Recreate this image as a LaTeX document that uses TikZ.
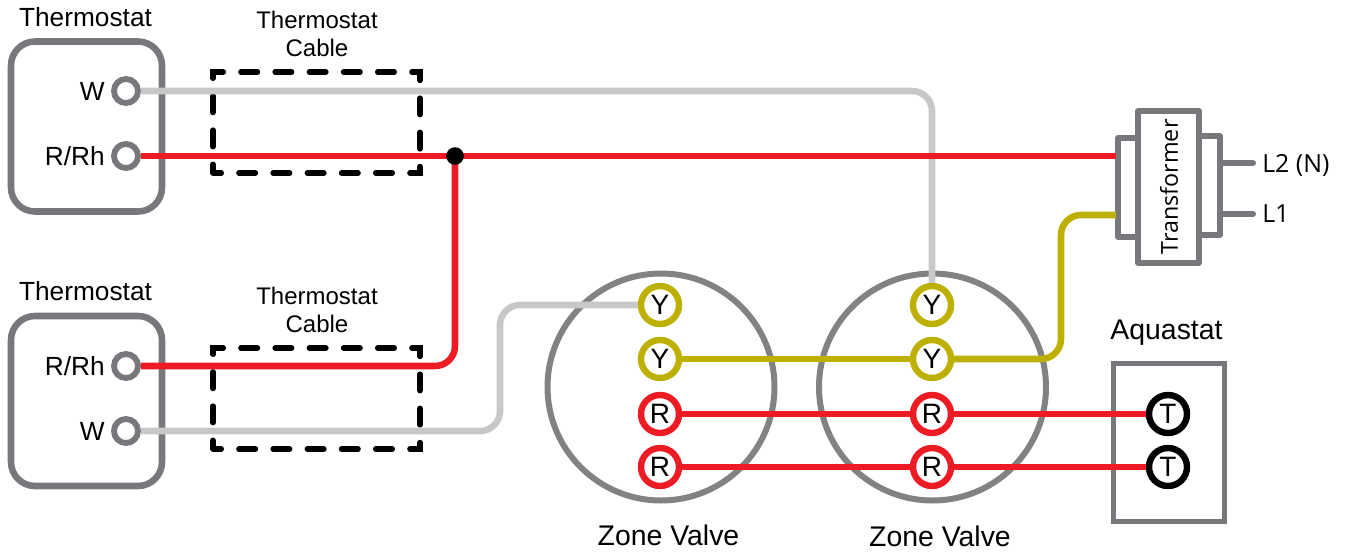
\documentclass[tikz,border=0pt]{standalone}
\usepackage{fontspec}
\setmainfont{Liberation Sans}
\newfontfamily\myriadish{Open Sans}
\usetikzlibrary{positioning}
\definecolor{boxGrey}{RGB}{119,120,123}
\definecolor{zoneGrey}{RGB}{130,130,130}
\definecolor{wireGrey}{RGB}{200,200,200}
\definecolor{wireRed}{RGB}{237,28,36}
\definecolor{wireOlive}{RGB}{189,176,0}

\begin{document}
\begin{tikzpicture}[
    x=0.75pt, y=-0.75pt,
    caption/.style={inner sep=0pt, align=center, font=\fontsize{19.7pt}{21pt}\selectfont},
    cablecap/.style={inner sep=0pt, align=center, font=\fontsize{18pt}{21pt}\selectfont},
    stat/.style={rectangle, draw=boxGrey, line width=4.9pt, rounded corners=18pt, minimum width=113.25pt, minimum height=127.5pt},
    cable/.style={rectangle, draw=black, line width=4.1pt, line cap=round, dash pattern=on 12.4pt off 13.25pt, dash phase=6.2pt, minimum width=155.25pt, minimum height=75.75pt},
    statpin/.style={circle, draw=boxGrey, fill=white, line width=4.4pt, minimum size=18pt, inner sep=0pt},
    pinlabel/.style={inner sep=0pt, font=\fontsize{19.7pt}{22pt}\selectfont},
    valve/.style={circle, draw=zoneGrey, line width=4.5pt, minimum size=170.25pt, inner sep=0pt},
    pin/.style={circle, fill=white, line width=4.8pt, minimum size=28.5pt, inner sep=0pt, font=\fontsize{21pt}{22pt}\selectfont},
    core/.style={rectangle, draw=boxGrey, line width=4.1pt, line join=round, inner sep=0pt},
    wire/.style={line width=4.9pt, rounded corners=15pt},
    lead/.style={draw=boxGrey, line width=4.5pt, line cap=round},
    sidetext/.style={inner sep=0pt, anchor=west, font=\myriadish\fontsize{18.7pt}{22pt}\selectfont}
]
\useasboundingbox (0,0) rectangle (1345,554);

% thermostats and cables
\node[stat] (statA) at (86.5,126.5) {};
\node[stat] (statB) at (86.5,401) {};
\node[caption] (statAcap) at (85.5,17) {Thermostat};
\node[caption] (statBcap) at (85.5,291) {Thermostat};
\node[cable] (cableA) at (316.5,122.5) {};
\node[cable] (cableB) at (316.5,398.5) {};
\node[cablecap] (cableAcap) at (317,33.5) {Thermostat\\Cable};
\node[cablecap] (cableBcap) at (317,309.5) {Thermostat\\Cable};
\node[statpin] (wA) at (126,91) {};
\node[statpin] (rA) at (126,156) {};
\node[statpin] (rB) at (126,366) {};
\node[statpin] (wB) at (126,431) {};
\node[pinlabel, left=4.6pt of wA] {W};
\node[pinlabel, left=4.6pt of rA] {R/Rh};
\node[pinlabel, left=4.6pt of rB] {R/Rh};
\node[pinlabel, left=4.6pt of wB] {W};

% zone valves
\node[valve] (valveA) at (661,387) {};
\node[valve] (valveB) at (932.5,387) {};
\node[caption, font=\fontsize{21.3pt}{22pt}\selectfont] (valveAcap) at (668.5,535) {Zone Valve};
\node[caption, font=\fontsize{21.3pt}{22pt}\selectfont] (valveBcap) at (940,536) {Zone Valve};
\node[pin, draw=wireOlive] (yA) at (660,305) {Y};
\node[pin, draw=wireOlive] (yyA) at (660,359) {Y};
\node[pin, draw=wireRed] (rrA) at (660,414) {R};
\node[pin, draw=wireRed] (ssA) at (660,467) {R};
\node[pin, draw=wireOlive] (yB) at (932,305) {Y};
\node[pin, draw=wireOlive] (yyB) at (932,359) {Y};
\node[pin, draw=wireRed] (rrB) at (932,414) {R};
\node[pin, draw=wireRed] (ssB) at (932,467) {R};

% aquastat
\node[rectangle, draw=boxGrey, line width=4.1pt, minimum width=83.25pt, minimum height=118.5pt] (aqua) at (1169,442.5) {};
\node[caption, font=\fontsize{21.3pt}{22pt}\selectfont] (aquacap) at (1166.5,333) {Aquastat};
\node[pin, draw=black] (tA) at (1168,414) {T};
\node[pin, draw=black] (tB) at (1168,467) {T};

% transformer
\node[core, minimum width=27pt, minimum height=74.25pt] (coilL) at (1136,187.5) {};
\node[core, minimum width=27pt, minimum height=74.25pt] (coilR) at (1202,185.5) {};
\node[core, fill=white, minimum width=45.75pt, minimum height=114pt] (xfmr) at (1168.5,187) {};
\node[rotate=90, inner sep=0pt, font=\myriadish\fontsize{17.5pt}{20pt}\selectfont] (xfmrtext) at (1169,187) {Transformer};
\node[sidetext] (ltwo) at (1262,165) {L2 (N)};
\node[sidetext] (lone) at (1262,214) {L1};

\coordinate (tap) at (455,156);
\coordinate (redin) at (1116,156);
\coordinate (oliveturn) at (1061,359);
\coordinate (olivein) at (1116,215);
\coordinate (greyturn) at (500,431);
\coordinate (redturn) at (455,366);
\coordinate (ltwoout) at (1222,163);
\coordinate (ltwoend) at (1253,163);
\coordinate (loneout) at (1222,214);
\coordinate (loneend) at (1253,214);

\draw[wire, wireGrey] (wA) -| (yB);
\draw[wire, wireGrey] (wB) -- (greyturn) |- (yA);
\draw[wire, wireRed] (rA) -- (tap) -- (redin);
\draw[wire, wireRed] (rB) -- (redturn) -- (tap);
\draw[wire, wireOlive] (yyA) -- (yyB);
\draw[wire, wireOlive] (yyB) -- (oliveturn) |- (olivein);
\draw[wire, wireRed] (rrA) -- (rrB);
\draw[wire, wireRed] (rrB) -- (tA);
\draw[wire, wireRed] (ssA) -- (ssB);
\draw[wire, wireRed] (ssB) -- (tB);
\draw[lead] (ltwoout) -- (ltwoend);
\draw[lead] (loneout) -- (loneend);
\fill[black] (tap) circle (6.6pt);

\end{tikzpicture}
\end{document}
